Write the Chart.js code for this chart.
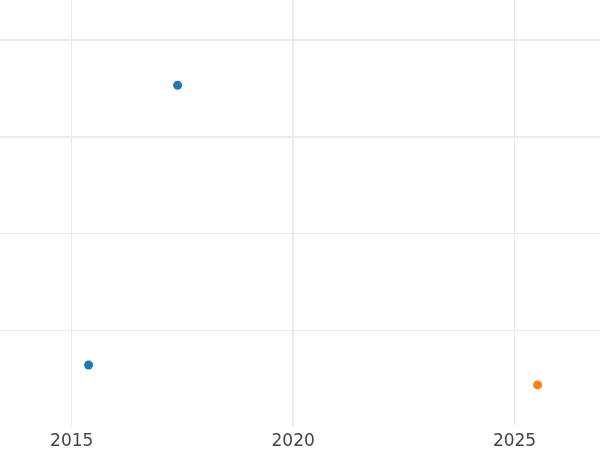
<!DOCTYPE html>
<html>
<head>
<meta charset="utf-8">
<script src="https://cdn.jsdelivr.net/npm/chart.js@4"></script>
<style>
html,body{margin:0;padding:0;background:#fff;}
#wrap{width:600px;height:450px;}
</style>
</head>
<body>
<div id="wrap"><canvas id="c" width="600" height="450"></canvas></div>
<script>
const seriesAX = [2017.39, 2015.38];
const seriesAY = [3.53, 0.64];
const seriesBX = [2025.52];
const seriesBY = [0.435];
const xTicks = [2015, 2020, 2025];
const yTicks = [1, 2, 3, 4];
const xThick = [2020];
const yThick = [3, 4];

const toPts = (xs, ys) => xs.map((x, i) => ({x: x, y: ys[i]}));

new Chart(document.getElementById('c'), {
  type: 'scatter',
  data: {
    datasets: [
      {data: toPts(seriesAX, seriesAY), backgroundColor: '#1f77b4', borderColor: '#1f77b4', pointRadius: 4.5, pointHoverRadius: 4.5, borderWidth: 0},
      {data: toPts(seriesBX, seriesBY), backgroundColor: '#ff7f0e', borderColor: '#ff7f0e', pointRadius: 4.5, pointHoverRadius: 4.5, borderWidth: 0}
    ]
  },
  options: {
    responsive: false,
    animation: false,
    layout: {padding: 0, autoPadding: false},
    plugins: {legend: {display: false}, tooltip: {enabled: false}},
    scales: {
      x: {
        type: 'linear',
        min: 2013.38,
        max: 2026.93,
        afterBuildTicks: s => { s.ticks = xTicks.map(v => ({value: v})); },
        afterFit: s => { s.height = 23; },
        grid: {
          color: '#ebebeb',
          lineWidth: ctx => (ctx.tick && xThick.includes(ctx.tick.value)) ? 2 : 1,
          drawTicks: false
        },
        border: {display: false},
        ticks: {
          color: '#444',
          font: {family: 'DejaVu Sans', size: 17},
          padding: 4,
          maxRotation: 0,
          callback: v => String(v)
        }
      },
      y: {
        min: 0,
        max: 4.41,
        afterBuildTicks: s => { s.ticks = yTicks.map(v => ({value: v})); },
        afterFit: s => { s.width = 0; },
        grid: {
          color: '#ebebeb',
          lineWidth: ctx => (ctx.tick && yThick.includes(ctx.tick.value)) ? 2 : 1,
          drawTicks: false
        },
        border: {display: false},
        ticks: {display: false}
      }
    }
  }
});
</script>
</body>
</html>
